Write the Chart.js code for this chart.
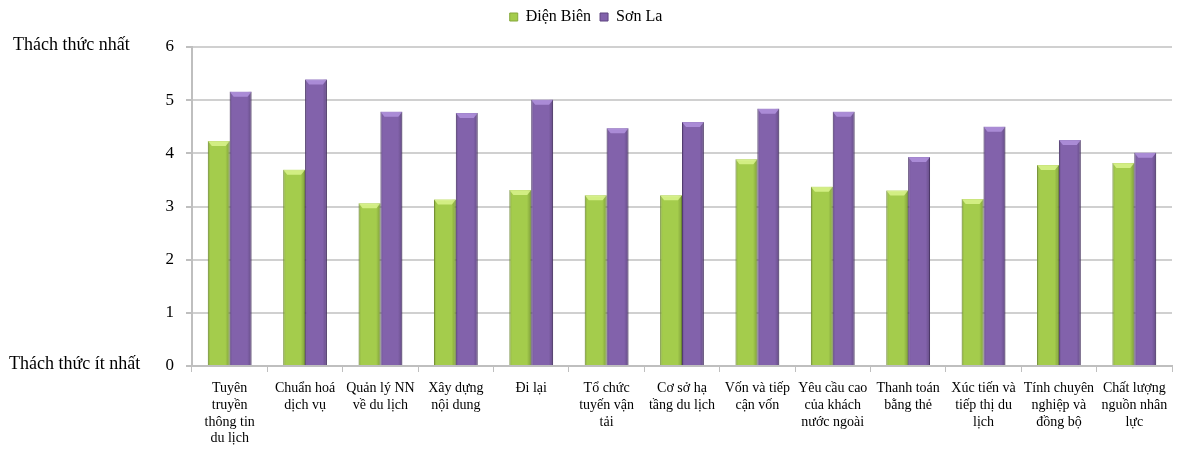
<!DOCTYPE html>
<html><head><meta charset="utf-8">
<script src="https://cdn.jsdelivr.net/npm/chart.js@4/dist/chart.umd.min.js"></script>
<style>html,body{margin:0;padding:0;background:#fff}#wrap{width:1186px;height:452px}</style>
</head><body><div id="wrap"><canvas id="c"></canvas></div>
<script>
const categories = [
  ["Tuyên","truyền","thông tin","du lịch"],
  ["Chuẩn hoá","dịch vụ"],
  ["Quản lý NN","về du lịch"],
  ["Xây dựng","nội dung"],
  ["Đi lại"],
  ["Tổ chức","tuyến vận","tải"],
  ["Cơ sở hạ","tầng du lịch"],
  ["Vốn và tiếp","cận vốn"],
  ["Yêu cầu cao","của khách","nước ngoài"],
  ["Thanh toán","bằng thẻ"],
  ["Xúc tiến và","tiếp thị du","lịch"],
  ["Tính chuyên","nghiệp và","đồng bộ"],
  ["Chất lượng","nguồn nhân","lực"]
];
const dienBien = [4.23, 3.69, 3.06, 3.13, 3.31, 3.21, 3.21, 3.89, 3.37, 3.30, 3.14, 3.78, 3.82];
const sonLa    = [5.16, 5.39, 4.78, 4.76, 5.01, 4.47, 4.59, 4.84, 4.78, 3.93, 4.50, 4.25, 4.01];
const seriesNames = ["Điện Biên", "Sơn La"];
const yEndLabels = {6: "Thách thức nhất", 0: "Thách thức ít nhất"};

const FONT = "'Liberation Serif', 'DejaVu Serif', serif";

const sideLabels = {
  id: 'sideLabels',
  afterDraw(chart) {
    const y = chart.scales.y, ctx = chart.ctx;
    ctx.save();
    ctx.font = "18px " + FONT;
    ctx.fillStyle = "#000";
    ctx.textAlign = "left";
    ctx.textBaseline = "middle";
    ctx.fillText(yEndLabels[6], 13, y.getPixelForValue(6) - 2);
    ctx.fillText(yEndLabels[0], 9, y.getPixelForValue(0) - 2);
    ctx.restore();
  }
};

const legendMargin = {
  id: 'legendMargin',
  beforeInit(chart) {
    const fit = chart.legend.fit;
    chart.legend.fit = function () { fit.call(this); this.height += 12; };
  }
};

// bevel / shading on each bar, using the bar elements positioned by Chart.js
const bevel = {
  id: 'bevel',
  afterDatasetsDraw(chart) {
    const ctx = chart.ctx;
    chart.data.datasets.forEach((ds, i) => {
      const meta = chart.getDatasetMeta(i);
      const light = i === 0 ? 'rgba(225,250,150,0.75)' : 'rgba(180,150,225,0.8)';
      meta.data.forEach(bar => {
        const {x, y, base, width} = bar.getProps(['x','y','base','width'], true);
        const l = x - width / 2, r = x + width / 2, h = 5;
        ctx.save();
        const g = ctx.createLinearGradient(l, 0, r, 0);
        g.addColorStop(0, 'rgba(0,0,0,0.16)');
        g.addColorStop(0.12, 'rgba(0,0,0,0.0)');
        g.addColorStop(0.8, 'rgba(0,0,0,0.0)');
        g.addColorStop(1, 'rgba(0,0,0,0.22)');
        ctx.fillStyle = g;
        ctx.fillRect(l, y, width, base - y);
        ctx.beginPath();
        ctx.moveTo(l, y); ctx.lineTo(r, y); ctx.lineTo(r - 4, y + h); ctx.lineTo(l + 4, y + h); ctx.closePath();
        ctx.fillStyle = light;
        ctx.fill();
        ctx.restore();
      });
    });
  }
};

new Chart(document.getElementById('c'), {
  type: 'bar',
  data: {
    labels: categories,
    datasets: [
      {label: seriesNames[0], data: dienBien, backgroundColor: '#a4cc4c', borderColor: '#86a83b', borderWidth: 1},
      {label: seriesNames[1], data: sonLa, backgroundColor: '#8262ab', borderColor: '#5e4580', borderWidth: 1}
    ]
  },
  options: {
    responsive: true,
    maintainAspectRatio: false,
    animation: false,
    categoryPercentage: 0.58,
    barPercentage: 1.0,
    layout: {padding: {top: 0, right: 14, left: 0, bottom: 0}},
    plugins: {
      legend: {
        position: 'top',
        labels: {font: {family: FONT, size: 16}, color: '#000', boxWidth: 8, boxHeight: 8, padding: 9}
      },
      tooltip: {enabled: false}
    },
    scales: {
      x: {
        grid: {display: true, drawOnChartArea: false, drawTicks: true, tickLength: 6, color: '#bfbfbf', offset: true},
        border: {color: '#bfbfbf', width: 2},
        ticks: {font: {family: FONT, size: 14}, color: '#000', maxRotation: 0, autoSkip: false, padding: 8},
        afterFit(s) { s.height = 86; }
      },
      y: {
        min: 0, max: 6,
        ticks: {stepSize: 1, font: {family: FONT, size: 17}, color: '#000', padding: 12},
        grid: {color: '#d0d0d0', lineWidth: 2, tickLength: 6, tickColor: '#bfbfbf'},
        border: {color: '#bfbfbf', width: 2},
        afterFit(s) { s.width = 192; }
      }
    }
  },
  plugins: [sideLabels, legendMargin, bevel]
});
</script>
</body></html>
